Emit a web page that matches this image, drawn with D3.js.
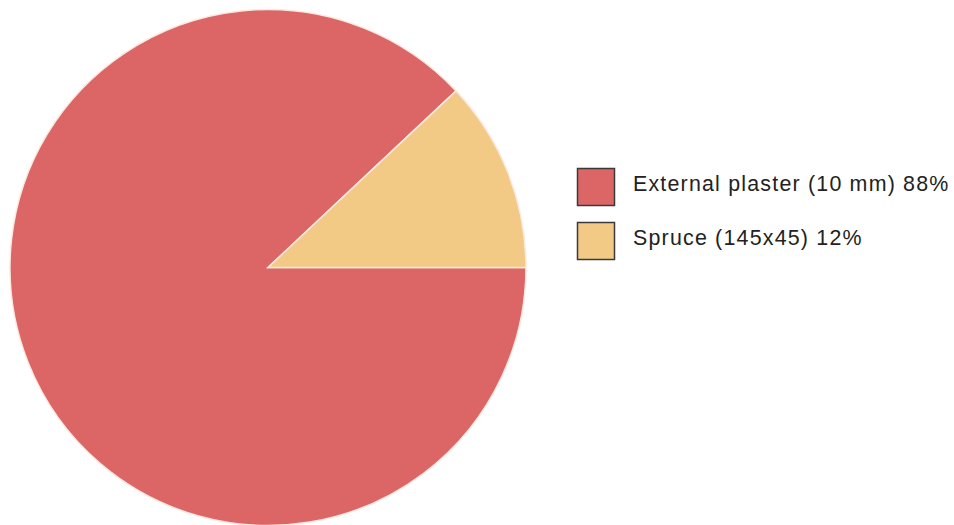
<!DOCTYPE html>
<html><head><meta charset="utf-8">
<script src="https://cdn.jsdelivr.net/npm/d3@7"></script>
<style>html,body{margin:0;padding:0;background:#fff;}</style>
</head><body>
<svg id="c" width="954" height="525"></svg>
<script>
const categories = ["External plaster (10 mm)", "Spruce (145x45)"];
const values = [88, 12];
const colors = ["#dc6665", "#f2ca86"];

const svg = d3.select("#c");
const cx = 268, cy = 267.5, r = 258;
const pie = d3.pie().sort(null).startAngle(Math.PI/2).endAngle(Math.PI/2 + 2*Math.PI);
const arcs = pie(values);
const arc = d3.arc().innerRadius(0).outerRadius(r);
const color = d3.scaleOrdinal().domain(categories).range(colors);

svg.append("g").attr("transform", `translate(${cx},${cy})`)
  .selectAll("path").data(arcs).join("path")
  .attr("d", arc)
  .attr("fill", (d,i) => color(categories[i]))
  .attr("stroke", "#fbe9e0").attr("stroke-width", 1.5);

const total = d3.sum(values);
const lg = svg.append("g").attr("transform", "translate(577,168)");
const items = lg.selectAll("g").data(categories).join("g")
  .attr("transform", (d,i) => `translate(0,${i*54})`);
items.append("rect").attr("x",0.5).attr("y",0.5).attr("width",37).attr("height",37)
  .attr("fill", d => color(d)).attr("stroke", "#3a3a3a").attr("stroke-width", 1.5);
items.append("text").attr("x", 56).attr("y", 23)
  .attr("font-family", "'Liberation Sans', Arial, sans-serif").attr("font-size", 21.4).attr("fill", "#222")
  .attr("letter-spacing", 1.2)
  .text((d,i) => `${d} ${Math.round(values[i]/total*100)}%`);
</script>
</body></html>
